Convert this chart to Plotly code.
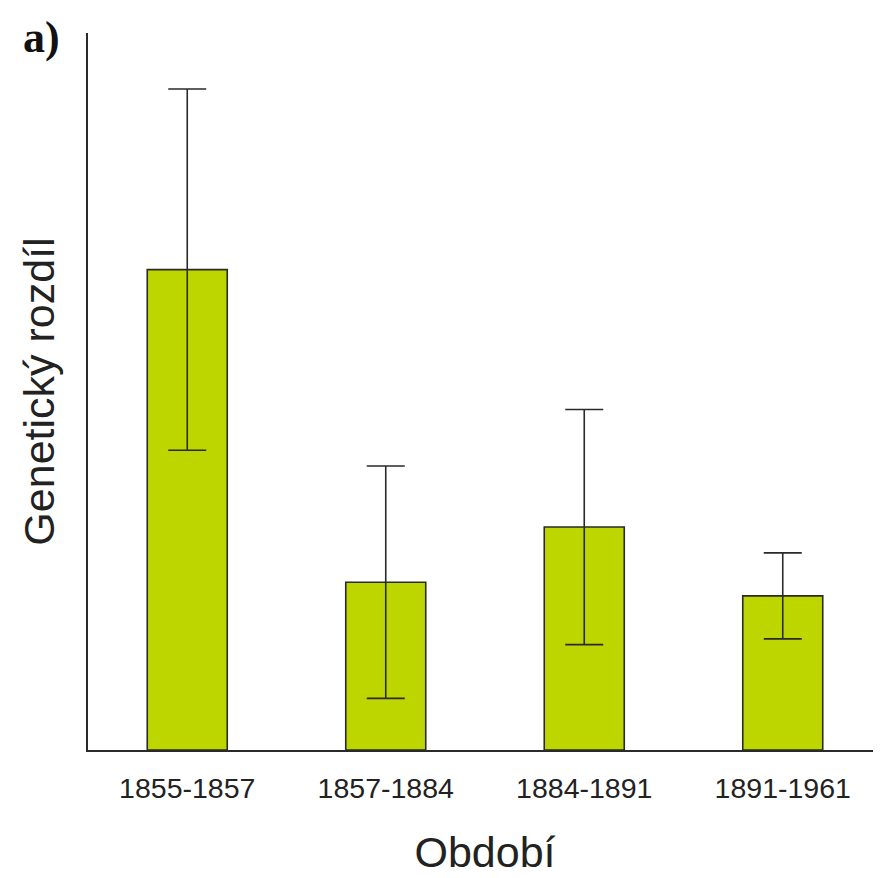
import plotly.graph_objects as go

categories = ["1855-1857", "1857-1884", "1884-1891", "1891-1961"]
values = [0.670, 0.234, 0.311, 0.215]
errors = [0.252, 0.162, 0.164, 0.060]

fig = go.Figure()
fig.add_trace(go.Bar(
    x=categories, y=values,
    width=0.403,
    marker=dict(color="#BED600", line=dict(color="#2a2a2a", width=1.6)),
    error_y=dict(type="data", array=errors, visible=True, color="#2a2a2a",
                 thickness=1.6, width=19),
))

fig.update_layout(
    width=881, height=878,
    margin=dict(l=80, r=7, t=25, b=136),
    paper_bgcolor="white", plot_bgcolor="white",
    showlegend=False,
    font=dict(family="Liberation Sans, Arial, sans-serif", color="#222"),
    xaxis=dict(
        showline=True, linecolor="#2a2a2a", linewidth=2, automargin=False,
        showgrid=False, ticks="", ticklabelstandoff=12,
        tickfont=dict(size=28.5, color="#222"),
        title=dict(text="Období", font=dict(size=43, color="#222"), standoff=34),
    ),
    yaxis=dict(
        range=[0, 1], showline=True, linecolor="#2a2a2a", linewidth=2, automargin=False,
        showgrid=False, zeroline=False, showticklabels=False, ticks="",
        title=dict(text="Genetický rozdíl", font=dict(size=43, color="#222"), standoff=18),
    ),
    annotations=[dict(
        text="<b>a)</b>", xref="paper", yref="paper",
        x=-0.085, y=1.03, xanchor="left", yanchor="top", showarrow=False,
        font=dict(family="Liberation Serif, Times New Roman, serif", size=44, color="#111"),
    )],
)

fig.write_html("out.html")
